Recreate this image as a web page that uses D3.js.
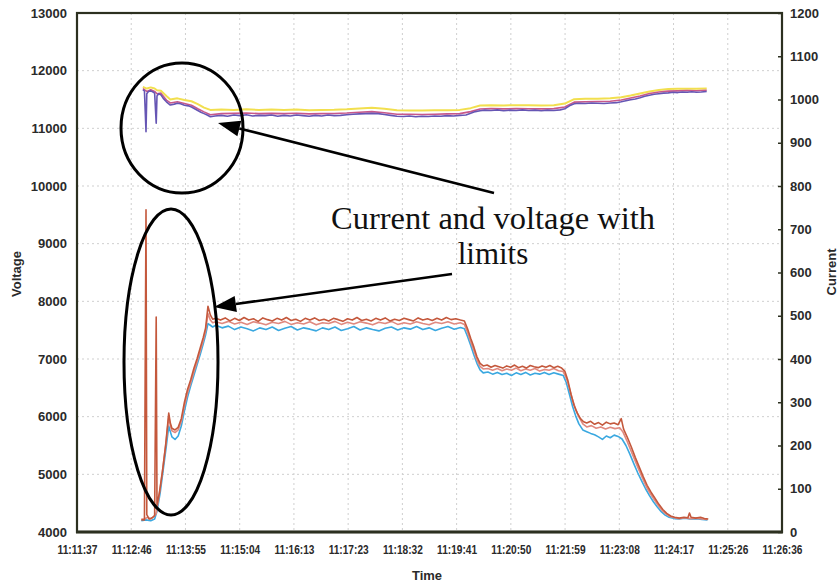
<!DOCTYPE html>
<html>
<head>
<meta charset="utf-8">
<script src="https://cdn.jsdelivr.net/npm/d3@7"></script>
<style>
  html, body { margin: 0; padding: 0; background: #fff; }
  svg { display: block; }
</style>
</head>
<body>
<svg id="chart" width="838" height="587"></svg>
<script>
// ---------- DATA ----------
const timeLabels = ["11:11:37","11:12:46","11:13:55","11:15:04","11:16:13","11:17:23","11:18:32",
  "11:19:41","11:20:50","11:21:59","11:23:08","11:24:17","11:25:26","11:26:36"];
const timeSpan = 899; // seconds from 11:11:37 to 11:26:36
const voltageTicks = [4000,5000,6000,7000,8000,9000,10000,11000,12000,13000];
const currentTicks = [0,100,200,300,400,500,600,700,800,900,1000,1100,1200];

// Voltage series [seconds since 11:11:37, volts]
const voltPurple = [[84,11664],[86,11650],[88,10940],[89,11600],[91,11640],[94,11650],[97,11630],[99,11610],[101,11090],[102,11560],[104,11600],[107,11580],[110,11520],[114,11460],[119,11404],[124,11420],[128,11435],[132,11425],[137,11400],[142,11390],[146,11370],[150,11340],[154,11310],[158,11280],[162,11255],[166,11230],[170,11200],[176,11215],[184,11225],[192,11210],[200,11230],[208,11220],[216,11235],[224,11215],[232,11225],[240,11220],[248,11230],[256,11210],[264,11225],[272,11215],[280,11230],[288,11220],[296,11210],[304,11225],[312,11215],[320,11230],[328,11220],[336,11225],[344,11235],[352,11245],[360,11250],[368,11255],[376,11260],[384,11255],[392,11240],[400,11225],[408,11210],[416,11205],[424,11215],[432,11200],[440,11210],[448,11205],[456,11215],[464,11210],[472,11220],[480,11215],[488,11225],[496,11230],[502,11260],[508,11290],[514,11305],[520,11315],[528,11310],[536,11320],[544,11305],[552,11315],[560,11310],[568,11320],[576,11310],[584,11315],[592,11305],[600,11315],[608,11310],[616,11320],[622,11340],[628,11390],[634,11425],[640,11435],[648,11430],[656,11440],[664,11435],[672,11430],[680,11440],[688,11445],[694,11460],[700,11480],[706,11495],[712,11510],[718,11530],[724,11555],[730,11575],[736,11590],[742,11600],[748,11610],[754,11615],[760,11625],[766,11620],[772,11630],[778,11625],[784,11635],[790,11625],[796,11630],[803,11640]];
const voltPink = [[84,11690],[89,11640],[94,11670],[99,11640],[102,11600],[107,11610],[114,11490],[119,11440],[128,11460],[137,11430],[146,11400],[154,11340],[162,11285],[170,11235],[184,11255],[200,11260],[216,11265],[232,11255],[248,11260],[264,11255],[280,11262],[296,11250],[312,11255],[328,11258],[344,11265],[360,11280],[376,11290],[392,11270],[408,11245],[424,11245],[440,11240],[456,11245],[472,11250],[488,11255],[502,11290],[514,11335],[528,11345],[544,11338],[560,11342],[576,11340],[592,11338],[608,11342],[622,11370],[634,11455],[648,11462],[664,11465],[680,11470],[694,11490],[706,11525],[718,11560],[730,11605],[742,11630],[754,11645],[766,11650],[778,11655],[790,11652],[803,11660]];
const voltYellow = [[84,11720],[89,11690],[94,11710],[99,11690],[102,11660],[107,11650],[114,11560],[119,11500],[128,11520],[137,11490],[146,11470],[154,11420],[162,11360],[170,11320],[184,11325],[200,11320],[216,11330],[232,11320],[248,11325],[264,11318],[280,11325],[296,11315],[312,11320],[328,11322],[344,11330],[360,11345],[376,11355],[392,11340],[408,11315],[424,11310],[440,11308],[456,11312],[472,11315],[488,11320],[502,11350],[514,11395],[528,11400],[544,11398],[560,11402],[576,11400],[592,11398],[608,11402],[622,11430],[634,11505],[648,11512],[664,11515],[680,11520],[694,11540],[706,11570],[718,11605],[730,11640],[742,11665],[754,11680],[766,11685],[778,11688],[790,11685],[803,11690]];

// Current series [seconds since 11:11:37, amperes]
const currRed = [[82,28],[86,28],[88,745],[89,40],[92,30],[96,33],[99,38],[101,497],[102,62],[105,90],[109,140],[113,200],[117,275],[119,252],[121,240],[125,236],[129,242],[133,262],[137,300],[141,330],[145,352],[149,378],[153,400],[157,425],[161,450],[164,472],[167,522],[170,502],[173,492],[177,494],[183,490],[189,495],[195,488],[201,494],[207,489],[213,496],[219,490],[225,493],[231,487],[237,495],[243,491],[249,488],[255,494],[261,490],[267,496],[273,489],[279,492],[285,487],[291,494],[297,490],[303,495],[309,489],[315,492],[321,488],[327,494],[333,491],[339,487],[345,493],[351,490],[357,496],[363,489],[369,492],[375,488],[381,494],[387,490],[393,495],[399,488],[405,492],[411,489],[417,494],[423,491],[429,488],[435,495],[441,490],[447,493],[453,489],[459,494],[465,490],[471,496],[477,491],[483,493],[489,490],[494,488],[498,470],[502,448],[506,428],[510,405],[514,390],[518,384],[523,386],[528,381],[533,385],[538,382],[543,379],[548,384],[553,381],[558,386],[563,380],[568,383],[573,379],[578,385],[583,382],[588,380],[593,384],[598,381],[603,385],[608,380],[613,383],[618,379],[622,372],[626,350],[630,318],[634,292],[638,275],[642,262],[646,255],[650,252],[655,256],[660,249],[665,253],[670,247],[675,254],[680,250],[685,252],[690,248],[694,262],[697,238],[702,218],[707,196],[712,172],[717,150],[722,128],[727,108],[732,92],[737,78],[742,64],[747,52],[752,43],[757,37],[762,34],[768,32],[774,34],[779,33],[781,44],[783,34],[789,32],[795,34],[800,31],[805,30]];
const currPink = [[82,30],[86,30],[90,34],[94,30],[98,36],[101,42],[103,65],[106,100],[110,155],[114,215],[117,268],[119,246],[121,234],[125,230],[129,236],[133,256],[137,292],[141,322],[145,345],[149,370],[153,393],[157,418],[161,443],[164,465],[167,505],[170,490],[173,484],[177,486],[185,482],[193,487],[201,481],[209,485],[217,480],[225,486],[233,483],[241,479],[249,485],[257,482],[265,487],[273,480],[281,484],[289,481],[297,486],[305,479],[313,484],[321,482],[329,487],[337,480],[345,485],[353,481],[361,486],[369,483],[377,479],[385,485],[393,482],[401,487],[409,480],[417,484],[425,481],[433,486],[441,482],[449,479],[457,485],[465,482],[473,486],[481,481],[489,484],[494,480],[498,462],[502,440],[506,420],[510,398],[514,383],[518,377],[524,378],[530,374],[536,378],[542,373],[548,377],[554,374],[560,379],[566,373],[572,377],[578,374],[584,378],[590,372],[596,376],[602,374],[608,378],[614,373],[620,371],[624,356],[628,332],[632,305],[636,283],[640,266],[645,250],[650,243],[656,246],[662,240],[668,243],[674,238],[680,242],[686,239],[692,241],[696,232],[701,212],[706,190],[711,168],[716,146],[721,125],[726,105],[731,89],[736,75],[741,62],[746,50],[751,42],[756,36],[762,33],[768,31],[775,33],[782,31],[790,32],[797,30],[804,29]];
const currBlue = [[82,26],[88,28],[94,26],[99,30],[102,48],[106,90],[110,145],[114,200],[117,245],[119,232],[121,220],[125,214],[129,222],[133,245],[137,280],[141,312],[145,338],[149,362],[153,386],[157,410],[161,435],[164,456],[167,482],[170,478],[173,474],[177,478],[185,472],[193,476],[201,468],[209,474],[217,470],[225,465],[233,472],[241,468],[249,474],[257,466],[265,471],[273,475],[281,467],[289,472],[297,469],[305,465],[313,472],[321,468],[329,474],[337,466],[345,470],[353,475],[361,467],[369,472],[377,468],[385,465],[393,471],[401,474],[409,467],[417,472],[425,469],[433,475],[441,468],[449,472],[457,466],[465,471],[473,475],[481,469],[489,473],[494,470],[498,452],[502,432],[506,410],[510,390],[514,375],[518,368],[524,370],[530,365],[536,369],[542,364],[548,367],[554,362],[560,368],[566,364],[572,369],[578,363],[584,367],[590,365],[596,369],[602,364],[608,368],[614,365],[620,362],[624,345],[628,318],[632,290],[636,268],[640,250],[645,236],[650,232],[655,228],[660,225],[665,220],[670,214],[675,222],[680,218],[685,224],[690,221],[695,215],[700,200],[705,180],[710,158],[715,137],[720,118],[725,100],[730,84],[735,70],[740,58],[745,47],[750,39],[755,34],[762,31],[768,30],[775,32],[782,30],[790,31],[797,29],[804,28]];

// ---------- CHART ----------
const svg = d3.select("#chart");
const L = 77, R = 782, T = 13, B = 532;
const x = d3.scaleLinear().domain([0, timeSpan]).range([L, R]);
const yV = d3.scaleLinear().domain([4000, 13000]).range([B, T]);
const yA = d3.scaleLinear().domain([0, 1200]).range([B, T]);
const timeTicks = timeLabels.map((_, i) => i * timeSpan / (timeLabels.length - 1));

const frameColor = "#2c3020";
const tickFont = "Liberation Sans, Arial, sans-serif";

// grid
const grid = svg.append("g").attr("stroke", "#cfcfcf").attr("stroke-width", 1).attr("stroke-dasharray", "2,3");
grid.selectAll("line.v").data(timeTicks.slice(1, -1)).join("line")
  .attr("x1", d => x(d)).attr("x2", d => x(d)).attr("y1", T).attr("y2", B);
grid.selectAll("line.h").data(voltageTicks.slice(1, -1)).join("line")
  .attr("x1", L).attr("x2", R).attr("y1", d => yV(d)).attr("y2", d => yV(d));

// series
const lineV = d3.line().x(d => x(d[0])).y(d => yV(d[1]));
const lineA = d3.line().x(d => x(d[0])).y(d => yA(d[1]));
const series = [
  { data: voltYellow, gen: lineV, color: "#f2df4e", w: 2 },
  { data: voltPink, gen: lineV, color: "#c8588a", w: 1.6 },
  { data: voltPurple, gen: lineV, color: "#6656b4", w: 1.6 },
  { data: currBlue, gen: lineA, color: "#3aa8e0", w: 1.6 },
  { data: currPink, gen: lineA, color: "#e08a80", w: 1.6 },
  { data: currRed, gen: lineA, color: "#c4583c", w: 1.6 }
];
svg.append("g").selectAll("path").data(series).join("path")
  .attr("d", s => s.gen(s.data))
  .attr("fill", "none")
  .attr("stroke", s => s.color)
  .attr("stroke-width", s => s.w)
  .attr("stroke-linejoin", "round");

// frame
svg.append("rect").attr("x", L).attr("y", T).attr("width", R - L).attr("height", B - T)
  .attr("fill", "none").attr("stroke", frameColor).attr("stroke-width", 2.2);
svg.append("line").attr("x1", L - 1).attr("x2", R + 1).attr("y1", B).attr("y2", B)
  .attr("stroke", frameColor).attr("stroke-width", 3);

// axes
function styleAxis(g) {
  g.select(".domain").remove();
  g.selectAll("text").attr("font-family", tickFont).attr("font-weight", "bold")
    .attr("fill", "#2a2a2a");
  g.selectAll(".tick line").attr("stroke", frameColor).attr("stroke-width", 1.5);
}
const gx = svg.append("g").attr("transform", `translate(0,${B})`)
  .call(d3.axisBottom(x).tickValues(timeTicks).tickFormat((d, i) => timeLabels[i]).tickSize(0).tickPadding(13))
  .call(styleAxis);
gx.selectAll("text").attr("font-size", 13).attr("textLength", 40).attr("lengthAdjust", "spacingAndGlyphs");

const gl = svg.append("g").attr("transform", `translate(${L},0)`)
  .call(d3.axisLeft(yV).tickValues(voltageTicks).tickFormat(d3.format("d")).tickSize(0).tickPadding(10))
  .call(styleAxis);
gl.selectAll("text").attr("font-size", 13);

const gr = svg.append("g").attr("transform", `translate(${R},0)`)
  .call(d3.axisRight(yA).tickValues(currentTicks).tickFormat(d3.format("d")).tickSizeInner(-4).tickSizeOuter(0).tickPadding(8))
  .call(styleAxis);
gr.selectAll("text").attr("font-size", 13);

// axis titles
svg.append("text").attr("transform", "translate(21,274) rotate(-90)").attr("text-anchor", "middle")
  .attr("font-family", tickFont).attr("font-weight", "bold").attr("font-size", 13).attr("fill", "#2a2a2a")
  .text("Voltage");
svg.append("text").attr("transform", "translate(836,272) rotate(-90)").attr("text-anchor", "middle")
  .attr("font-family", tickFont).attr("font-weight", "bold").attr("font-size", 13).attr("fill", "#2a2a2a")
  .text("Current");
svg.append("text").attr("x", 427).attr("y", 580).attr("text-anchor", "middle")
  .attr("font-family", tickFont).attr("font-weight", "bold").attr("font-size", 13).attr("fill", "#2a2a2a")
  .text("Time");

// annotations
const ann = svg.append("g");
ann.append("ellipse").attr("cx", 182).attr("cy", 128).attr("rx", 61).attr("ry", 65)
  .attr("fill", "none").attr("stroke", "#000").attr("stroke-width", 3);
ann.append("ellipse").attr("cx", 171).attr("cy", 362).attr("rx", 47).attr("ry", 153)
  .attr("fill", "none").attr("stroke", "#000").attr("stroke-width", 3);

function arrow(x1, y1, x2, y2) {
  const ang = Math.atan2(y2 - y1, x2 - x1);
  const len = 22, hw = 8;
  const bx = x2 - len * Math.cos(ang), by = y2 - len * Math.sin(ang);
  ann.append("line").attr("x1", x1).attr("y1", y1).attr("x2", bx).attr("y2", by)
    .attr("stroke", "#000").attr("stroke-width", 2.6);
  const px = -Math.sin(ang) * hw, py = Math.cos(ang) * hw;
  ann.append("polygon")
    .attr("points", `${x2},${y2} ${bx + px},${by + py} ${bx - px},${by - py}`)
    .attr("fill", "#000");
}
arrow(494, 193, 218, 123);
arrow(452, 274, 214, 307);

ann.append("text").attr("x", 493).attr("y", 229).attr("text-anchor", "middle")
  .attr("font-family", "Liberation Serif, Times New Roman, serif").attr("font-size", 31)
  .attr("textLength", 324).attr("lengthAdjust", "spacingAndGlyphs").attr("fill", "#111")
  .text("Current and voltage with");
ann.append("text").attr("x", 493).attr("y", 264).attr("text-anchor", "middle")
  .attr("font-family", "Liberation Serif, Times New Roman, serif").attr("font-size", 31).attr("fill", "#111")
  .text("limits");
</script>
</body>
</html>
